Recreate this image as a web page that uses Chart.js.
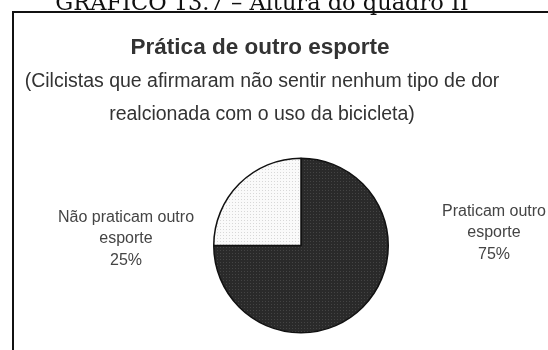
<!DOCTYPE html>
<html>
<head>
<meta charset="utf-8">
<script src="https://cdn.jsdelivr.net/npm/chart.js@4/dist/chart.umd.min.js"></script>
<style>
  html, body { margin: 0; padding: 0; background: #fff; }
  #wrap { width: 548px; height: 350px; position: relative; }
</style>
</head>
<body>
<div id="wrap"><canvas id="grafico"></canvas></div>
<script>
// dados do gráfico
const legenda = 'GRÁFICO 13.7 – Altura do quadro II'
const titulo = 'Prática de outro esporte'
const subtitulo = ['(Cilcistas que afirmaram não sentir nenhum tipo de dor', 'realcionada com o uso da bicicleta)']
const categorias = [['Praticam outro', 'esporte'], ['Não praticam outro', 'esporte']]
const percentuais = [75, 25]

// textura pontilhada das fatias
function textura(fundo, ponto) {
    const c = document.createElement('canvas')
    c.width = 3
    c.height = 3
    const g = c.getContext('2d')
    g.fillStyle = fundo
    g.fillRect(0, 0, 3, 3)
    g.fillStyle = ponto
    g.fillRect(1, 1, 1, 1)
    return g.createPattern(c, 'repeat')
}
const corEscura = textura('#2a2a2a', '#444')
const corClara = textura('#fafafa', '#d8d8d8')

// moldura, legenda superior, títulos e rótulos das fatias
const textos = {
    id: 'textos',
    beforeDraw(chart) {
        const ctx = chart.ctx
        ctx.save()
        ctx.fillStyle = '#fff'
        ctx.fillRect(0, 0, chart.width, chart.height)
        // moldura
        ctx.strokeStyle = '#111'
        ctx.lineWidth = 2
        ctx.beginPath()
        ctx.moveTo(13, 350)
        ctx.lineTo(13, 12)
        ctx.lineTo(548, 12)
        ctx.stroke()
        // legenda
        ctx.fillStyle = '#111'
        ctx.font = '22.5px "DejaVu Serif"'
        ctx.textAlign = 'center'
        ctx.textBaseline = 'alphabetic'
        ctx.fillText(legenda, 262, 10)
        ctx.restore()
    },
    afterDraw(chart) {
        const ctx = chart.ctx
        ctx.save()
        ctx.textAlign = 'center'
        ctx.textBaseline = 'middle'
        ctx.fillStyle = '#333'
        ctx.font = 'bold 22.5px "Liberation Sans"'
        ctx.fillText(titulo, 260, 48)
        ctx.font = '19.5px "Liberation Sans"'
        ctx.fillText(subtitulo[0], 262, 82)
        ctx.fillText(subtitulo[1], 262, 115)

        ctx.fillStyle = '#444'
        ctx.font = '16px "Liberation Sans"'
        const arco = chart.getDatasetMeta(0).data[0]
        const posicoes = [
            { x: arco.x + 193, y: arco.y - 34 },
            { x: arco.x - 175, y: arco.y - 28 }
        ]
        percentuais.forEach((v, i) => {
            const linhas = categorias[i].concat([v + '%'])
            linhas.forEach((l, j) => {
                ctx.fillText(l, posicoes[i].x, posicoes[i].y + j * 21.5)
            })
        })
        ctx.restore()
    }
}

new Chart(document.getElementById('grafico'), {
    type: 'pie',
    data: {
        labels: categorias,
        datasets: [{
            data: percentuais,
            backgroundColor: [corEscura, corClara],
            borderColor: '#111',
            borderWidth: 1.5
        }]
    },
    options: {
        responsive: true,
        maintainAspectRatio: false,
        animation: false,
        layout: { padding: { top: 157, bottom: 16, left: 213, right: 159 } },
        plugins: {
            legend: { display: false },
            tooltip: { enabled: false },
            title: { display: false }
        }
    },
    plugins: [textos]
})
</script>
</body>
</html>
